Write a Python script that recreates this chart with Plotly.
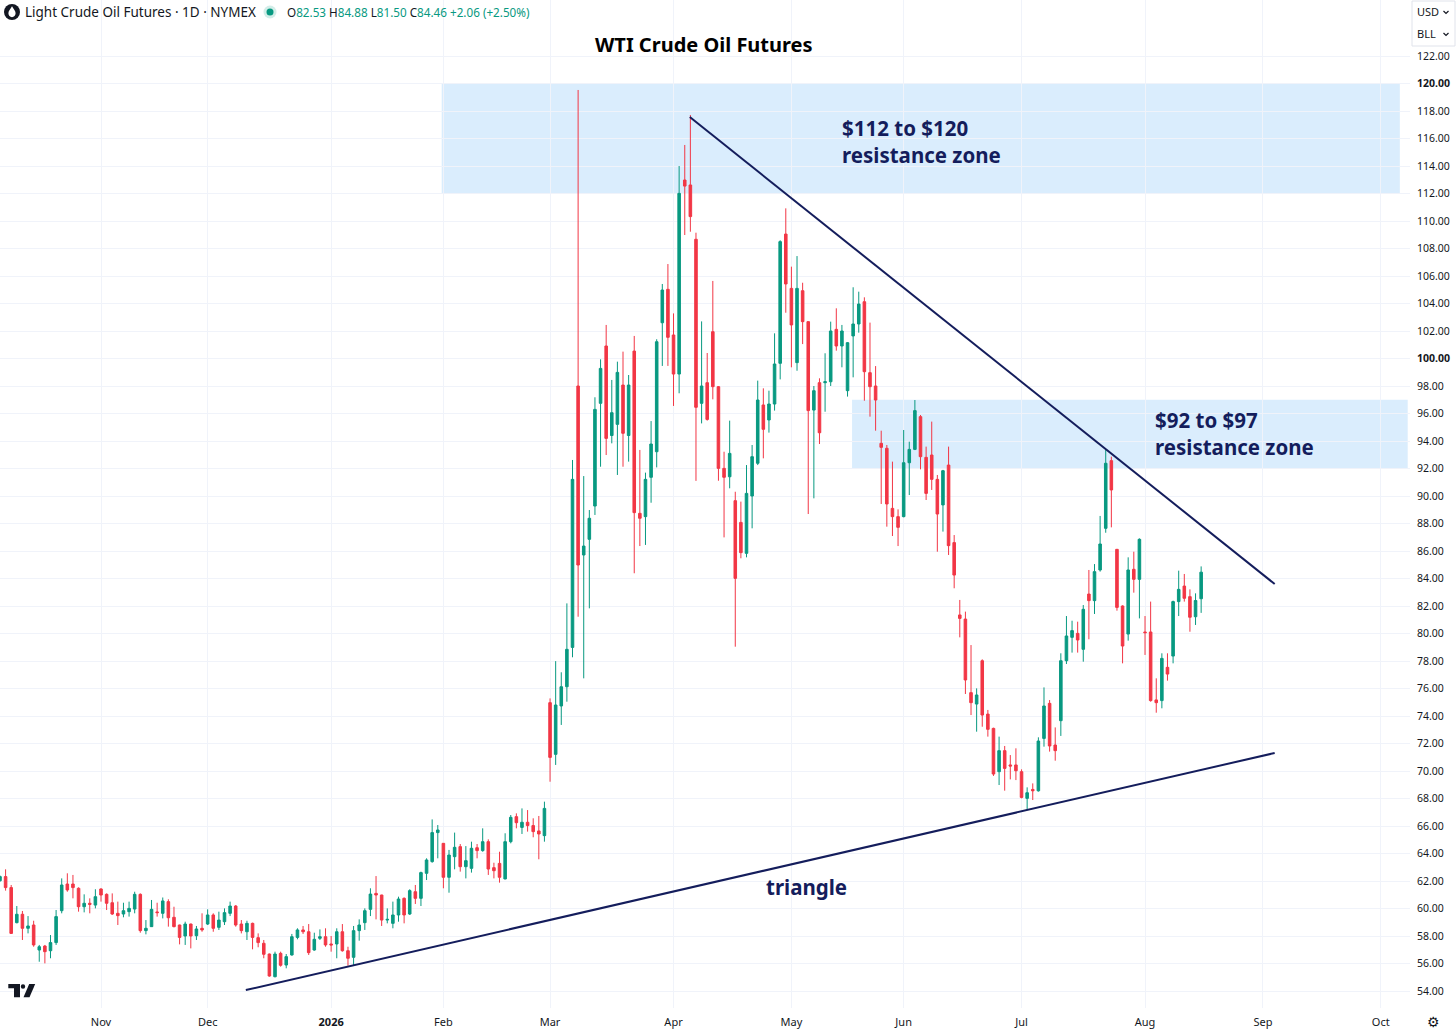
import numpy as np
import pandas as pd
import plotly.graph_objects as go

# ---------------- data ----------------
FIRST_DAY = "2025-10-08"
HOLIDAYS = ["2025-11-27", "2025-12-25", "2026-01-01", "2026-01-19", "2026-02-16",
            "2026-04-03", "2026-05-25", "2026-06-19", "2026-07-03", "2026-09-07"]

opens = [
    62.02, 62.32, 61.52, 58.97, 59.58, 58.56, 58.80, 56.98, 57.27, 56.93,
    57.52, 59.84, 61.78, 61.78, 61.47, 60.13, 60.38, 60.25, 61.42, 61.03,
    60.42, 59.65, 59.60, 59.77, 59.96, 61.03, 58.39, 58.68, 59.75, 59.65,
    60.50, 59.36, 58.80, 58.00, 58.87, 58.02, 58.56, 58.87, 59.53, 58.63,
    59.04, 59.65, 60.18, 58.87, 58.31, 58.92, 57.88, 57.47, 56.69, 55.04,
    56.74, 55.89, 56.62, 57.90, 58.44, 58.31, 56.98, 57.83, 57.95, 57.42,
    57.42, 58.31, 56.93, 56.45, 58.39, 58.97, 59.94, 61.10, 60.98, 59.16,
    58.92, 59.53, 60.74, 59.60, 61.22, 60.74, 62.56, 63.41, 65.52, 64.74,
    62.27, 63.77, 64.50, 63.04, 62.92, 64.42, 64.21, 64.86, 62.97, 63.28,
    62.15, 64.86, 66.68, 65.90, 66.27, 66.03, 65.64, 65.30, 74.97, 71.21,
    74.73, 76.13, 78.99, 98.00, 85.71, 86.85, 89.27, 96.74, 100.91, 94.40,
    95.21, 98.07, 94.40, 100.54, 88.74, 88.50, 91.36, 93.22, 102.60, 105.03,
    101.71, 98.87, 112.98, 112.62, 108.67, 96.74, 98.24, 101.95, 97.95, 92.01,
    91.40, 89.66, 88.08, 85.83, 90.00, 92.38, 96.62, 95.53, 96.69, 99.65,
    109.05, 105.10, 99.70, 104.93, 102.68, 96.25, 98.24, 98.24, 98.31, 102.12,
    100.91, 97.66, 101.64, 102.51, 104.13, 98.97, 98.00, 93.83, 93.47, 89.10,
    88.50, 88.50, 92.42, 93.39, 95.77, 92.81, 92.98, 91.21, 89.35, 92.25,
    86.61, 81.35, 81.05, 75.70, 74.87, 78.02, 74.14, 73.10, 69.95, 71.48,
    70.44, 70.44, 69.95, 68.01, 68.66, 68.56, 72.37, 74.92, 71.89, 73.66,
    78.02, 79.72, 80.01, 78.85, 82.87, 82.39, 84.62, 87.65, 92.57, 86.12,
    82.00, 79.96, 84.67, 83.94, 80.11, 80.11, 75.17, 75.12, 77.54, 78.36,
    82.32, 83.45, 82.68, 81.22, 82.53,
]
highs = [
    62.40, 62.85, 61.71, 60.18, 59.82, 59.45, 59.11, 57.35, 57.35, 58.07,
    59.89, 62.19, 62.56, 62.44, 61.54, 61.03, 60.74, 61.40, 61.47, 61.10,
    61.10, 60.50, 60.42, 60.50, 61.22, 61.10, 59.16, 60.62, 60.42, 60.80,
    60.67, 60.13, 58.82, 59.04, 58.90, 58.73, 59.65, 59.94, 59.65, 59.77,
    60.01, 60.50, 60.25, 59.16, 59.11, 58.97, 58.19, 57.71, 56.72, 56.86,
    56.86, 56.69, 58.15, 58.56, 58.73, 58.87, 58.24, 58.48, 58.56, 58.00,
    58.56, 58.87, 57.22, 58.73, 59.21, 60.01, 61.47, 62.36, 61.00, 60.01,
    60.50, 60.86, 60.81, 61.40, 61.71, 62.68, 63.65, 66.48, 66.07, 64.76,
    64.26, 65.52, 64.69, 64.54, 64.86, 64.69, 65.83, 65.03, 63.33, 64.13,
    65.47, 66.80, 66.92, 67.28, 67.16, 66.56, 66.73, 67.77, 75.28, 77.99,
    77.18, 82.19, 92.62, 119.53, 91.45, 88.98, 97.18, 99.94, 102.44, 98.44,
    99.77, 100.50, 98.80, 101.64, 93.35, 91.70, 95.45, 101.40, 105.42, 106.87,
    103.28, 114.00, 115.53, 117.71, 109.15, 102.70, 100.40, 105.64, 98.00, 93.22,
    95.48, 90.31, 89.59, 92.25, 93.71, 98.39, 97.83, 97.66, 101.83, 108.60,
    110.92, 106.68, 107.45, 105.51, 102.70, 98.00, 98.56, 100.38, 102.68, 103.65,
    102.44, 101.20, 105.18, 104.86, 104.45, 102.61, 99.45, 94.75, 93.71, 92.50,
    89.03, 94.80, 93.95, 96.98, 95.89, 93.59, 95.41, 91.53, 91.90, 93.59,
    87.16, 82.44, 81.59, 79.16, 76.01, 78.12, 74.44, 73.15, 72.50, 71.82,
    71.16, 71.65, 70.12, 68.81, 69.10, 72.45, 76.08, 75.16, 73.17, 78.56,
    81.27, 80.93, 80.86, 82.07, 84.62, 85.05, 88.55, 93.35, 92.86, 86.15,
    82.05, 85.54, 85.95, 86.92, 81.27, 82.32, 76.74, 78.56, 78.56, 82.39,
    84.57, 84.33, 83.21, 82.92, 84.88,
]
lows = [
    61.95, 61.30, 58.15, 58.92, 57.71, 58.19, 57.22, 56.13, 56.01, 56.38,
    57.35, 59.65, 61.22, 60.74, 59.77, 59.72, 59.65, 60.01, 60.50, 59.89,
    59.53, 58.80, 59.36, 59.41, 59.65, 58.24, 58.12, 58.66, 59.41, 59.28,
    58.68, 58.63, 57.39, 57.35, 57.10, 57.71, 58.31, 58.80, 58.31, 58.44,
    58.80, 59.45, 58.68, 58.19, 57.71, 57.03, 57.18, 56.38, 55.04, 54.99,
    55.77, 55.65, 56.57, 57.76, 58.15, 56.62, 56.93, 57.71, 57.22, 56.86,
    56.38, 56.86, 55.84, 55.89, 57.66, 58.44, 59.45, 59.21, 58.73, 58.92,
    58.56, 59.04, 58.92, 59.53, 60.33, 60.18, 62.07, 63.33, 63.65, 61.47,
    61.15, 62.85, 62.68, 62.19, 62.61, 63.65, 64.13, 62.44, 62.19, 61.88,
    62.12, 64.74, 65.83, 65.42, 65.59, 65.18, 63.58, 64.86, 69.22, 70.44,
    73.35, 75.04, 78.27, 81.22, 76.74, 81.83, 88.62, 92.13, 92.98, 93.83,
    91.53, 92.13, 92.50, 84.38, 86.36, 86.44, 89.51, 92.08, 99.46, 99.46,
    96.55, 97.47, 108.98, 109.22, 91.10, 95.28, 95.48, 97.03, 91.11, 86.99,
    90.56, 79.04, 85.47, 85.54, 87.65, 92.25, 92.74, 94.61, 96.21, 98.48,
    103.33, 99.36, 99.11, 101.05, 88.69, 89.83, 93.78, 96.13, 98.00, 100.57,
    99.36, 97.23, 98.63, 101.88, 96.93, 95.77, 94.75, 89.42, 87.77, 87.09,
    86.36, 88.45, 90.07, 93.34, 91.94, 89.71, 90.44, 85.95, 87.41, 85.71,
    83.29, 79.72, 75.60, 74.07, 72.86, 73.22, 72.50, 69.64, 68.98, 68.57,
    69.39, 69.34, 68.01, 67.16, 67.89, 68.50, 71.77, 71.41, 70.75, 72.55,
    77.78, 78.61, 78.61, 77.95, 79.58, 81.42, 84.50, 87.33, 87.72, 81.66,
    77.83, 79.48, 82.97, 81.10, 78.44, 75.04, 74.24, 74.56, 76.57, 77.83,
    81.27, 82.32, 80.13, 80.62, 81.50,
]
closes = [
    62.32, 61.52, 58.19, 59.58, 58.56, 58.73, 57.35, 57.22, 56.86, 57.52,
    59.41, 61.71, 61.35, 61.52, 60.13, 60.38, 60.30, 60.86, 60.98, 60.38,
    59.60, 59.48, 59.84, 60.01, 61.03, 58.39, 58.56, 59.94, 59.70, 60.55,
    59.33, 58.68, 57.90, 58.87, 58.00, 58.51, 58.44, 59.53, 58.56, 59.16,
    59.70, 60.18, 58.80, 58.39, 58.92, 57.90, 57.52, 56.67, 55.09, 56.69,
    55.87, 56.50, 57.95, 58.44, 58.31, 56.79, 57.76, 57.95, 57.35, 57.35,
    58.31, 56.93, 56.38, 58.39, 58.80, 59.84, 61.05, 60.98, 59.16, 59.21,
    59.53, 60.69, 59.53, 61.30, 60.74, 62.61, 63.53, 65.52, 65.71, 62.27,
    63.89, 64.45, 63.04, 63.48, 64.38, 64.21, 64.86, 62.87, 62.75, 62.27,
    64.86, 66.63, 66.24, 66.27, 66.03, 65.59, 65.42, 67.28, 70.99, 74.80,
    76.13, 78.85, 91.21, 84.98, 86.36, 88.38, 96.30, 99.28, 94.19, 96.06,
    98.99, 94.56, 98.07, 88.79, 88.38, 91.21, 93.78, 101.22, 104.98, 101.54,
    98.87, 112.01, 112.54, 110.32, 96.45, 98.00, 95.57, 97.95, 92.01, 91.36,
    93.10, 84.01, 85.88, 90.19, 92.86, 96.98, 94.85, 96.69, 99.60, 108.50,
    105.42, 102.44, 105.10, 102.68, 96.21, 97.66, 94.60, 98.31, 102.00, 100.91,
    102.00, 101.15, 102.51, 103.96, 99.04, 97.95, 96.98, 93.54, 89.42, 88.50,
    87.72, 92.42, 93.39, 96.21, 92.86, 90.19, 91.21, 88.69, 91.84, 86.39,
    84.25, 81.10, 76.62, 74.97, 75.53, 74.07, 73.03, 69.78, 71.48, 70.19,
    70.36, 70.02, 68.08, 68.42, 68.56, 72.18, 74.73, 71.82, 71.48, 78.02,
    79.82, 80.21, 79.53, 81.76, 82.39, 84.50, 86.51, 92.38, 90.44, 81.90,
    79.09, 84.62, 83.94, 86.85, 80.06, 75.12, 74.97, 78.19, 77.05, 82.32,
    83.21, 82.56, 81.18, 82.40, 84.46,
]

MONTH_LABELS = ["Nov", "Dec", "<b>2026</b>", "Feb", "Mar", "Apr", "May", "Jun", "Jul", "Aug", "Sep", "Oct"]
MONTHS = ["2025-11", "2025-12", "2026-01", "2026-02", "2026-03", "2026-04", "2026-05",
          "2026-06", "2026-07", "2026-08", "2026-09", "2026-10"]
PRICE_TICKS = list(range(54, 123, 2))
BOLD_TICKS = [100, 120]

# drawings (bar-index, price)
ZONE_PRICES = [(112, 120), (92, 97)]
ZONE_SPANS = [(78.7, 249.4), (151.8, 250.8)]
UPPER_TREND_X = [122.9, 227.1]
UPPER_TREND_Y = [117.56, 83.6]
LOWER_TREND_X = [43.8, 227.1]
LOWER_TREND_Y = [54.07, 71.31]
LABELS = ["$112 to $120<br>resistance zone", "$92 to $97<br>resistance zone", "triangle"]
LABEL_X = [149.6, 205.5, 143.6]
LABEL_Y = [115.75, 94.51, 61.56]
LABEL_ANCHOR = ["left", "left", "center"]

# ---------------- derived ----------------
bday = pd.offsets.CustomBusinessDay(holidays=HOLIDAYS)
calendar = pd.date_range(FIRST_DAY, "2026-11-30", freq=bday)
dates = calendar[:len(opens)]
bar_index = np.arange(len(opens))
periods = calendar.to_period("M").astype(str)
month_pos = [int(np.argmax(periods == m)) for m in MONTHS]

UP = "#089981"
DOWN = "#f23645"
NAVY = "#141d5c"
TXT = "#131722"
GRID = "#f0f3fa"

PLOT_W, PLOT_H = 1410, 1008
def px(x):
    return x / PLOT_W
def py(y):
    return 1 - y / PLOT_H

fig = go.Figure()

fig.add_trace(go.Candlestick(
    x=bar_index, open=opens, high=highs, low=lows, close=closes,
    text=[d.strftime("%Y-%m-%d") for d in dates],
    increasing=dict(line=dict(color=UP, width=1), fillcolor=UP),
    decreasing=dict(line=dict(color=DOWN, width=1), fillcolor=DOWN),
    whiskerwidth=0, showlegend=False, hoverinfo="text+y",
))

for xs, ys in [(UPPER_TREND_X, UPPER_TREND_Y), (LOWER_TREND_X, LOWER_TREND_Y)]:
    fig.add_trace(go.Scatter(x=xs, y=ys, mode="lines", line=dict(color=NAVY, width=2),
                             showlegend=False, hoverinfo="skip"))

shapes = []
for (p0, p1), (s0, s1) in zip(ZONE_PRICES, ZONE_SPANS):
    shapes.append(dict(type="rect", xref="x", yref="y", x0=s0, x1=s1, y0=p0, y1=p1,
                       fillcolor="rgba(33,150,243,0.17)", line=dict(width=0), layer="below"))

def pth(points_cmds):
    out = []
    for c in points_cmds:
        if isinstance(c, str):
            out.append(c)
        else:
            out.append(f"{px(c[0]):.6f},{py(c[1]):.6f}")
    return " ".join(out)

# header icons
shapes.append(dict(type="circle", xref="paper", yref="paper",
                   x0=px(4), x1=px(20), y0=py(20), y1=py(4),
                   fillcolor="#131722", line=dict(width=0)))
drop = pth(["M", (12, 6.3), "C", (13.6, 9), (15.6, 11), (15.6, 13.3),
            "C", (15.6, 15.4), (14, 17.2), (12, 17.2),
            "C", (10, 17.2), (8.4, 15.4), (8.4, 13.3),
            "C", (8.4, 11), (10.4, 9), (12, 6.3), "Z"])
shapes.append(dict(type="path", xref="paper", yref="paper", path=drop,
                   fillcolor="white", line=dict(width=0)))
shapes.append(dict(type="circle", xref="paper", yref="paper",
                   x0=px(263.5), x1=px(276.5), y0=py(18.5), y1=py(5.5),
                   fillcolor="rgba(8,153,129,0.18)", line=dict(width=0)))
shapes.append(dict(type="circle", xref="paper", yref="paper",
                   x0=px(266.5), x1=px(273.5), y0=py(15.5), y1=py(8.5),
                   fillcolor=UP, line=dict(width=0)))

# currency/unit box
shapes.append(dict(type="rect", xref="paper", yref="paper",
                   x0=px(1412), x1=px(1455), y0=py(46), y1=py(1),
                   fillcolor="white", line=dict(color="#e0e3eb", width=1)))
for cy in (12, 34):
    shapes.append(dict(type="path", xref="paper", yref="paper",
                       path=pth(["M", (1443.5, cy - 1), "L", (1446, cy + 1.5), "L", (1448.5, cy - 1)]),
                       line=dict(color=TXT, width=1.2)))

# TradingView logo
shapes.append(dict(type="path", xref="paper", yref="paper",
                   path=pth(["M", (8.3, 984), "L", (20, 984), "L", (20, 997.3), "L", (14, 997.3),
                             "L", (14, 988.3), "L", (8.3, 988.3), "Z"]),
                   fillcolor="#131722", line=dict(width=0)))
shapes.append(dict(type="circle", xref="paper", yref="paper",
                   x0=px(20.8), x1=px(25.2), y0=py(988.7), y1=py(984.3),
                   fillcolor="#131722", line=dict(width=0)))
shapes.append(dict(type="path", xref="paper", yref="paper",
                   path=pth(["M", (23.5, 997.3), "L", (29.5, 997.3), "L", (35.2, 984), "L", (29.2, 984), "Z"]),
                   fillcolor="#131722", line=dict(width=0)))

annotations = []
for txt, x, y, anc in zip(LABELS, LABEL_X, LABEL_Y, LABEL_ANCHOR):
    annotations.append(dict(x=x, y=y, xref="x", yref="y", text=f"<b>{txt}</b>", showarrow=False,
                            xanchor=anc, yanchor="middle", align="left",
                            font=dict(family="Noto Sans", size=20.5, color=NAVY)))

annotations.append(dict(x=px(704), y=py(45), xref="paper", yref="paper",
                        text="<b>WTI Crude Oil Futures</b>", showarrow=False,
                        xanchor="center", yanchor="middle",
                        font=dict(family="Noto Sans", size=20, color="#000000")))
annotations.append(dict(x=px(23), y=py(12.5), xref="paper", yref="paper",
                        text="Light Crude Oil Futures · 1D · NYMEX", showarrow=False,
                        xanchor="left", yanchor="middle",
                        font=dict(family="Noto Sans", size=13.5, color=TXT)))

chg = closes[-1] - closes[-2]
pct = chg / closes[-2] * 100
def g(s):
    return f'<span style="color:{UP}">{s}</span>'
ohlc = (f"O{g(f'{opens[-1]:.2f}')} H{g(f'{highs[-1]:.2f}')} L{g(f'{lows[-1]:.2f}')} "
        f"C{g(f'{closes[-1]:.2f}')} {g(f'{chg:+.2f} ({pct:+.2f}%)')}")
annotations.append(dict(x=px(285), y=py(12.5), xref="paper", yref="paper",
                        text=ohlc, showarrow=False, xanchor="left", yanchor="middle",
                        font=dict(family="Noto Sans", size=11.7, color=TXT)))
for lbl, cy in (("USD", 12), ("BLL", 34)):
    annotations.append(dict(x=px(1415), y=py(cy), xref="paper", yref="paper",
                            text=lbl, showarrow=False, xanchor="left", yanchor="middle",
                            font=dict(family="Noto Sans", size=11, color=TXT)))
annotations.append(dict(x=px(1433), y=py(1022), xref="paper", yref="paper",
                        text="⚙", showarrow=False, xanchor="center", yanchor="middle",
                        font=dict(family="DejaVu Sans", size=14, color=TXT)))

tick_text = [f"<b>{v:.2f}</b>" if v in BOLD_TICKS else f"{v:.2f}" for v in PRICE_TICKS]

fig.update_layout(
    width=1456, height=1032,
    margin=dict(l=0, r=46, t=0, b=24),
    paper_bgcolor="white", plot_bgcolor="white",
    template="none",
    showlegend=False,
    boxgap=0.35,
    shapes=shapes,
    annotations=annotations,
    xaxis=dict(range=[0.005, 0.005 + PLOT_W / 5.613], tickmode="array",
               tickvals=month_pos, ticktext=MONTH_LABELS,
               showgrid=True, gridcolor=GRID, gridwidth=1, zeroline=False, showline=False,
               ticks="", rangeslider=dict(visible=False), automargin=False, ticklabelstandoff=6,
               tickfont=dict(family="Noto Sans", size=11, color=TXT), fixedrange=True),
    yaxis=dict(range=[52.764, 126.073], side="right", tickmode="array",
               tickvals=PRICE_TICKS, ticktext=tick_text,
               showgrid=True, gridcolor=GRID, gridwidth=1, zeroline=False, showline=False,
               ticks="", automargin=False, ticklabelstandoff=6,
               tickfont=dict(family="Noto Sans", size=10.5, color=TXT), fixedrange=True),
    hovermode="closest",
)

fig.write_html("out.html", config={"displayModeBar": False},
               post_script="document.body.style.margin='0px';")
